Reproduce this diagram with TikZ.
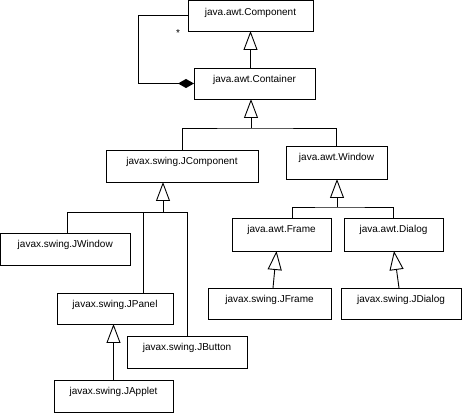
\documentclass[tikz,border=0pt]{standalone}
\usepackage{fontspec}
\setmainfont{Liberation Sans}
\usetikzlibrary{arrows.meta}
\tikzset{
  cbox/.style={draw, line width=0.9pt, inner sep=0pt, outer sep=0pt, rectangle},
  ctext/.style={anchor=base, inner sep=0pt, font=\fontsize{10}{12}\selectfont},
  conn/.style={line width=0.9pt},
  gen/.style={conn, -{Triangle[open, length=19pt, width=14pt, line width=0.9pt]}},
  comp/.style={conn, -{Diamond[length=16pt, width=9pt]}},
}
\newcommand\umlclass[6]{%
  \node[cbox, minimum width={(#4-#2)*1pt}, minimum height={(#5-#3)*1pt}] (#1) at ({(#2+#4)/2},{(#3+#5)/2}) {};
  \node[ctext] (#1-t) at ({(#2+#4)/2},{#3+15}) {#6};
}
\begin{document}
\begin{tikzpicture}[x=1pt, y=-1pt]
\useasboundingbox (0,0) rectangle (463,419);
\umlclass{component}{188}{0.5}{313}{31}{java.awt.Component}
\umlclass{container}{194}{68}{315}{99}{java.awt.Container}
\umlclass{jcomponent}{106}{150}{258}{182}{javax.swing.JComponent}
\umlclass{window}{286}{146}{387}{179}{java.awt.Window}
\umlclass{jwindow}{0.5}{233}{130}{265}{javax.swing.JWindow}
\umlclass{jpanel}{57}{293}{173}{324}{javax.swing.JPanel}
\umlclass{jbutton}{127}{336}{247}{368}{javax.swing.JButton}
\umlclass{japplet}{54}{380}{173}{412}{javax.swing.JApplet}
\umlclass{frame}{232}{218}{331}{251}{java.awt.Frame}
\umlclass{dialog}{344}{218}{443}{251}{java.awt.Dialog}
\umlclass{jframe}{208}{288}{331}{319}{javax.swing.JFrame}
\umlclass{jdialog}{341}{288}{461}{319}{javax.swing.JDialog}

% Container -> Component
\draw[gen] (container.north -| component.south) -- (component.south);
% composition
\draw[comp] (component.west) -- ++(-50,0) |- (container.west);
\node[ctext] (star) at (178,37) {*};

% JComponent, Window -> Container
\coordinate (j0) at (251,128);
\draw[gen] (j0) -- (j0 |- container.south);
\draw[conn] (jcomponent.north) |- (j0) -| (window.north);

% JWindow, JPanel, JButton -> JComponent
\coordinate (j1) at (163,212);
\draw[gen] (j1) -- (j1 |- jcomponent.south);
\draw[conn] ([xshift=2pt]jwindow.north) |- (j1);
\draw[conn] ([xshift=28pt]jpanel.north) |- (j1);
\draw[conn] (jbutton.north) |- (j1);

% JApplet -> JPanel
\draw[gen] (japplet.north) -- (japplet.north |- jpanel.south);

% Frame, Dialog -> Window
\coordinate (j2) at (337,207);
\draw[gen] (j2) -- (j2 |- window.south);
\draw[conn] ([xshift=11pt]frame.north) |- (j2) -| (dialog.north);

% JFrame -> Frame, JDialog -> Dialog
\draw[gen] ([xshift=3.5pt]jframe.north) -- ([xshift=-5pt]frame.south);
\draw[gen] ([xshift=-2pt]jdialog.north) -- ([xshift=0.5pt]dialog.south);
\end{tikzpicture}
\end{document}
